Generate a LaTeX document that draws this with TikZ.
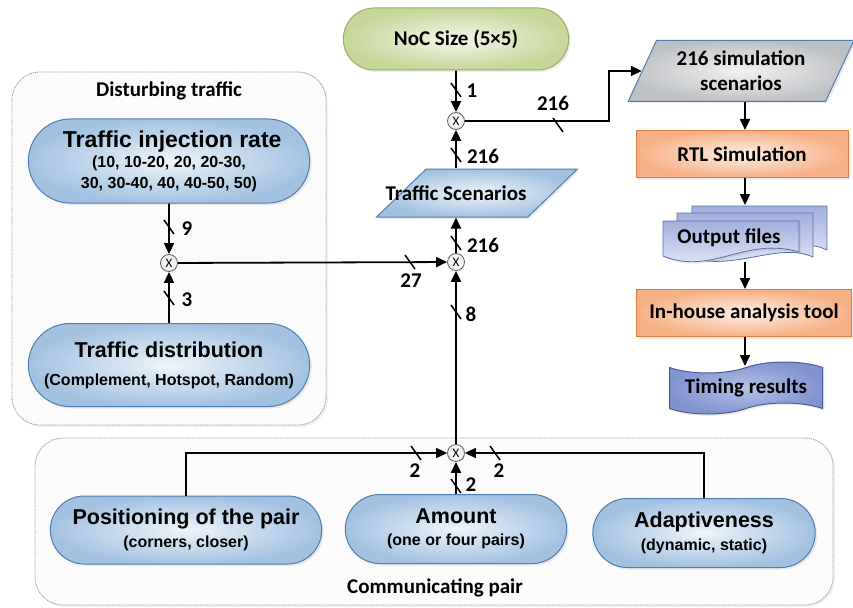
\documentclass[tikz,border=0pt]{standalone}
\usepackage{fontspec}
\setmainfont{Carlito}
\newfontfamily\arialfont{Liberation Sans}
\usetikzlibrary{shapes.misc,shapes.geometric,shapes.symbols,arrows.meta,shadows,calc}

\definecolor{bluefill}{HTML}{A3C2E2}
\definecolor{bluecenter}{HTML}{EEF4FA}
\definecolor{blueline}{HTML}{4E7DB1}
\definecolor{greenfill}{HTML}{C6D698}
\definecolor{greencenter}{HTML}{F4F7EA}
\definecolor{greenline}{HTML}{98AE5E}
\definecolor{orangefill}{HTML}{F6B085}
\definecolor{orangecenter}{HTML}{FDF0E6}
\definecolor{orangeline}{HTML}{E07B39}
\definecolor{grayfill}{HTML}{BEC1C4}
\definecolor{graycenter}{HTML}{F2F2F2}
\definecolor{doctop}{HTML}{A3B0DE}
\definecolor{docbottom}{HTML}{EEF1FA}
\definecolor{docline}{HTML}{5A6DA6}
\definecolor{tapefill}{HTML}{8193CF}
\definecolor{tapecenter}{HTML}{B3C0E8}
\definecolor{tapeline}{HTML}{4A5B9A}

% title and detail lines of the parameter boxes
\newcommand\titlefont[1][21.5]{\arialfont\bfseries\fontsize{#1}{25}\selectfont}
\newcommand\subfont{\arialfont\bfseries\fontsize{16}{21}\selectfont}

\tikzset{
  groupbox/.style={rectangle, rounded corners=28pt, draw=gray!80, line width=0.8pt,
    dash pattern=on 1.3pt off 0.9pt, fill=gray!3,
    drop shadow={opacity=0.12, shadow xshift=2pt, shadow yshift=-2pt}},
  grouptitle/.style={font=\bfseries\fontsize{21}{23}\selectfont, inner sep=0pt},
  param/.style={rounded rectangle, draw=blueline, line width=1pt,
    inner color=bluecenter, outer color=bluefill, align=center, font=\subfont,
    drop shadow={opacity=0.15, shadow xshift=2pt, shadow yshift=-2pt}},
  sizebox/.style={rounded rectangle, draw=greenline, line width=1pt,
    inner color=greencenter, outer color=greenfill,
    font=\bfseries\fontsize{21}{24}\selectfont,
    drop shadow={opacity=0.15, shadow xshift=2pt, shadow yshift=-2pt}},
  dataio/.style={trapezium, trapezium left angle=64, trapezium right angle=116,
    trapezium stretches=true, draw=blueline, line width=1pt,
    drop shadow={opacity=0.15, shadow xshift=2pt, shadow yshift=-2pt}},
  process/.style={rectangle, draw=orangeline, line width=1pt,
    inner color=orangecenter, outer color=orangefill,
    font=\bfseries\fontsize{21}{24}\selectfont,
    drop shadow={opacity=0.15, shadow xshift=2pt, shadow yshift=-2pt}},
  mixer/.style={circle, draw=gray!75!black, line width=0.8pt, inner color=white,
    outer color=gray!15, minimum size=17pt, inner sep=0pt,
    font=\fontsize{13}{13}\selectfont},
  wire/.style={line width=1.8pt},
  arr/.style={wire, -{Triangle[length=11pt,width=10pt]}},
  lab/.style={font=\bfseries\fontsize{21}{22}\selectfont, inner sep=0pt},
  boxtext/.style={font=\bfseries\fontsize{21}{24}\selectfont, align=center, inner sep=0pt},
  doc/.style={draw=docline, line width=0.8pt, top color=doctop, bottom color=docbottom},
  tick/.pic={\draw[line width=1.5pt] (-5,-7) -- (5,7);}
}

\begin{document}
\begin{tikzpicture}[x=1pt,y=-1pt]
\useasboundingbox (0,0) rectangle (853,607);

% group frames
\node[groupbox, minimum width=314pt, minimum height=353pt] (dist) at (169,248.5) {};
\node[grouptitle] (distT) at (169,91) {Disturbing traffic};
\node[groupbox, minimum width=798pt, minimum height=167pt] (comm) at (434,521.5) {};
\node[grouptitle, anchor=west] (commT) at (347,588) {Communicating pair};

% parameters
\node[sizebox, minimum width=232pt, minimum height=62pt] (noc) at (456,39) {NoC Size (5×5)};

\node[param, minimum width=288pt, minimum height=84pt] (inj) at (169,161)
  {{\titlefont[23] Traffic injection rate}\\[-1pt]
   (10, 10-20, 20, 20-30,\\
   30, 30-40, 40, 40-50, 50)};
\node[param, minimum width=288pt, minimum height=83pt] (dis) at (169,365)
  {{\titlefont Traffic distribution}\\[7pt]
   (Complement, Hotspot, Random)};

\node[param, minimum width=278pt, minimum height=68pt] (pos) at (186,530)
  {{\titlefont Positioning of the pair}\\[2pt]
   (corners, closer)};
\node[param, minimum width=228pt, minimum height=69pt] (amt) at (456,529)
  {{\titlefont Amount}\\[1pt]
   (one or four pairs)};
\node[param, minimum width=229pt, minimum height=69pt] (ada) at (704,533)
  {{\titlefont Adaptiveness}\\[2pt]
   (dynamic, static)};

% scenario generation
\node[dataio, inner color=bluecenter, outer color=bluefill,
      minimum width=201pt, minimum height=48pt] (ts) at (477,193) {};
\node[boxtext] (tsT) at (456,193) {Traffic Scenarios};

\node[mixer] (m1) at (456,121) {X};
\node[mixer] (m2) at (456,262) {X};
\node[mixer] (m3) at (456,453) {X};
\node[mixer] (mL) at (169,263) {X};

% right column
\node[dataio, inner color=graycenter, outer color=grayfill,
      minimum width=226pt, minimum height=61pt, align=center,
      font=\bfseries\fontsize{21}{25}\selectfont] (sim) at (741,71)
  {216 simulation\\ scenarios};
\node[process, minimum width=212pt, minimum height=47pt] (rtl) at (742,154) {RTL Simulation};

% output files: three stacked documents
\path[doc] (692,206) -- (827,206) -- (827,250)
  .. controls (790,232) and (740,270) .. (692,246) -- cycle;
\path[doc] (677,213) -- (813,213) -- (813,257)
  .. controls (775,240) and (725,278) .. (677,252) -- cycle;
\path[doc, drop shadow={opacity=0.15, shadow xshift=2pt, shadow yshift=-2pt}]
  (663,221) -- (799,221) -- (799,252)
  .. controls (745,236) and (712,276) .. (663,256) -- cycle;
\node[boxtext, minimum width=136pt, minimum height=41pt] (out) at (731,240) {};
\node[boxtext] (outT) at (729,238) {Output files};

\node[process, minimum width=215pt, minimum height=47pt] (ana) at (744,313) {In-house analysis tool};
\node[tape, draw=tapeline, line width=1pt, inner color=tapecenter, outer color=tapefill,
      minimum width=153pt, minimum height=52pt, tape bend height=11pt,
      font=\bfseries\fontsize{21}{24}\selectfont,
      drop shadow={opacity=0.15, shadow xshift=2pt, shadow yshift=-2pt}] (tim) at (746,388) {Timing results};

% wires into the top mixer
\draw[arr] (noc) -- (m1);
\pic at (456,90) {tick};
\node[lab] (l1) at (472,91) {1};
\draw[arr] (ts.north -| m1) -- (m1);
\pic at (456,155) {tick};
\node[lab] (l216a) at (483,156) {216};
\draw[arr] (m1.east) -- ++(144,0) |- (sim.west);
\pic at (558,125) {tick};
\node[lab] (l216b) at (553,103) {216};

% wires into the middle mixer
\draw[arr] (m2) -- (ts.south -| m2);
\pic at (456,243) {tick};
\node[lab] (l216c) at (483,245) {216};
\draw[arr] (mL) -- (m2);
\pic at (410,262) {tick};
\node[lab] (l27) at (411,281) {27};
\draw[arr] (m3) -- (m2);
\pic at (456,312) {tick};
\node[lab] (l8) at (471,314) {8};

% disturbing traffic
\draw[arr] (inj) -- (mL);
\pic at (169,227) {tick};
\node[lab] (l9) at (187,229) {9};
\draw[arr] (dis) -- (mL);
\pic at (169,298) {tick};
\node[lab] (l3) at (187,300) {3};

% communicating pair
\draw[arr] (pos.north) |- (m3);
\pic at (416,453) {tick};
\node[lab] (l2a) at (415,471) {2};
\draw[arr] (ada.north) |- (m3);
\pic at (495,453) {tick};
\node[lab] (l2c) at (499,471) {2};
\draw[arr] (amt) -- (m3);
\pic at (456,486) {tick};
\node[lab] (l2b) at (471,485) {2};

% processing chain
\draw[arr] (sim.south -| 745,0) -- (rtl.north -| 745,0);
\draw[arr] (rtl.south -| 745,0) -- (745,205);
\draw[arr] (745,262) -- (ana.north -| 745,0);
\draw[arr] (ana.south -| 745,0) -- (745,366);
\end{tikzpicture}
\end{document}
